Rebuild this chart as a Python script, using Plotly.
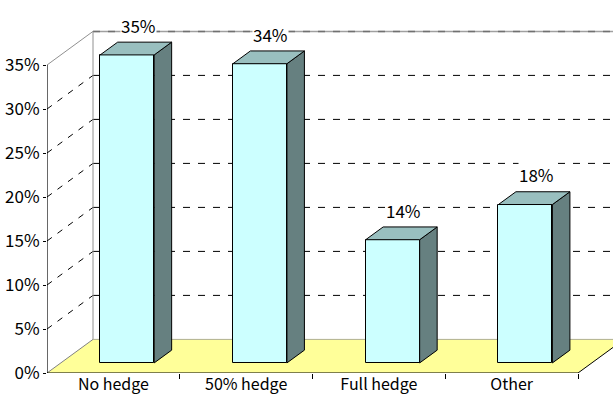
import plotly.graph_objects as go

categories = ["No hedge", "50% hedge", "Full hedge", "Other"]
values = [35, 34, 14, 18]
label_text = ["35%", "34%", "14%", "18%"]
ytick_vals = [0, 5, 10, 15, 20, 25, 30, 35]
ytick_text = ["0%", "5%", "10%", "15%", "20%", "25%", "30%", "35%"]

# pseudo-3D geometry (axis units)
PX_X = 132.75          # px per category
PX_Y = 8.8             # px per percent
DX = 46 / PX_X         # depth shift in x units
DY = 33.6 / PX_Y       # depth shift in y units (%)
D0, D1 = 0.30, 0.68    # bar depth fraction (front/back)
W = 54 / PX_X          # bar width
XMAX = 566 / PX_X
YMAX = 373 / PX_Y
YTOP = 35

FRONT = "#CCFFFF"
TOP = "#99BFBF"
SIDE = "#668080"
FLOOR = "#FFFF99"
FONT = "Noto Sans CJK JP, Noto Sans, sans-serif"

fig = go.Figure()

shapes = []
# floor
shapes.append(dict(type="path", xref="x", yref="y", layer="below",
                   path=f"M 0 0 L {len(categories)} 0 L {len(categories)+DX} {DY} L {DX} {DY} Z",
                   fillcolor=FLOOR, line=dict(width=0)))
# back wall gridlines
for v in ytick_vals[1:-1]:
    shapes.append(dict(type="line", xref="x", yref="y", layer="below",
                       x0=DX, y0=v + DY, x1=XMAX, y1=v + DY,
                       line=dict(color="black", width=1, dash="7px,8px")))
    shapes.append(dict(type="line", xref="x", yref="y", layer="below",
                       x0=0, y0=v, x1=DX, y1=v + DY,
                       line=dict(color="black", width=1, dash="6px,7px")))
# top edge of back wall & left wall
shapes.append(dict(type="line", xref="x", yref="y", layer="below",
                   x0=DX, y0=YTOP + DY, x1=XMAX, y1=YTOP + DY,
                   line=dict(color="#A0A0A0", width=1.5)))
shapes.append(dict(type="line", xref="x", yref="y", layer="below",
                   x0=DX, y0=YTOP + DY, x1=XMAX, y1=YTOP + DY,
                   line=dict(color="#707070", width=1.5, dash="7px,8px")))
shapes.append(dict(type="line", xref="x", yref="y", layer="below",
                   x0=0, y0=YTOP, x1=DX, y1=YTOP + DY,
                   line=dict(color="#909090", width=1)))
# back wall vertical edge
shapes.append(dict(type="line", xref="x", yref="y", layer="below",
                   x0=DX, y0=DY, x1=DX, y1=YTOP + DY,
                   line=dict(color="#909090", width=1)))
# floor back edge and left edge
shapes.append(dict(type="line", xref="x", yref="y", layer="below",
                   x0=DX, y0=DY, x1=XMAX, y1=DY,
                   line=dict(color="#B0B090", width=1)))
shapes.append(dict(type="line", xref="x", yref="y", layer="below",
                   x0=0, y0=0, x1=DX, y1=DY,
                   line=dict(color="#808080", width=1)))
# front axes
shapes.append(dict(type="line", xref="x", yref="y", layer="above",
                   x0=0, y0=0, x1=0, y1=YTOP, line=dict(color="black", width=1.2)))
shapes.append(dict(type="line", xref="x", yref="y", layer="above",
                   x0=0, y0=0, x1=len(categories), y1=0, line=dict(color="black", width=1.2)))
shapes.append(dict(type="line", xref="x", yref="y", layer="above",
                   x0=len(categories), y0=0, x1=len(categories) + DX, y1=DY,
                   line=dict(color="black", width=1)))

# bars
centers = [i + 0.5 for i in range(len(categories))]
e0, e1 = D0 * DY, D1 * DY
for c, v in zip(centers, values):
    xl0 = c - W / 2 + D0 * DX
    xr0 = c + W / 2 + D0 * DX
    xl1 = xl0 + (D1 - D0) * DX
    xr1 = xr0 + (D1 - D0) * DX
    fig.add_trace(go.Scatter(x=[xr0, xr0, xr1, xr1, xr0], y=[e0, v + e0, v + e1, e1, e0],
                             fill="toself", fillcolor=SIDE, mode="lines",
                             line=dict(color="black", width=1), hoverinfo="skip", showlegend=False))
    fig.add_trace(go.Scatter(x=[xl0, xr0, xr1, xl1, xl0], y=[v + e0, v + e0, v + e1, v + e1, v + e0],
                             fill="toself", fillcolor=TOP, mode="lines",
                             line=dict(color="black", width=1), hoverinfo="skip", showlegend=False))

fig.add_trace(go.Bar(x=[c + D0 * DX for c in centers], y=values, base=[e0] * len(values),
                     width=W, marker=dict(color=FRONT, line=dict(color="black", width=1)),
                     hoverinfo="skip", showlegend=False))

annotations = []
for c, v, t in zip(centers, values, label_text):
    annotations.append(dict(x=c + D0 * DX + 11 / PX_X, y=v + e0 + 29.7 / PX_Y, text=t,
                            showarrow=False, xref="x", yref="y", bgcolor="white",
                            font=dict(size=17, color="black", family=FONT), borderpad=0))

fig.update_layout(
    width=613, height=396,
    margin=dict(l=47, r=0, t=0, b=23, pad=0, autoexpand=False),
    paper_bgcolor="white", plot_bgcolor="white",
    font=dict(family=FONT, size=17, color="black"),
    shapes=shapes, annotations=annotations,
    xaxis=dict(range=[0, XMAX], tickmode="array", tickvals=centers, ticktext=categories,
               showgrid=False, zeroline=False, showline=False, ticks="", automargin=False,
               tickfont=dict(size=16), ticklabelstandoff=0,
               minor=dict(tickmode="array", tickvals=[1, 2, 3, 4], ticks="outside",
                          ticklen=5, tickcolor="black", showgrid=False)),
    yaxis=dict(range=[0, YMAX], tickmode="array", tickvals=ytick_vals, ticktext=ytick_text,
               showgrid=False, zeroline=False, showline=False, ticks="outside", automargin=False,
               ticklen=3, tickcolor="black", tickfont=dict(size=17)),
    bargap=0, hovermode=False,
)

fig.write_html("out.html")
